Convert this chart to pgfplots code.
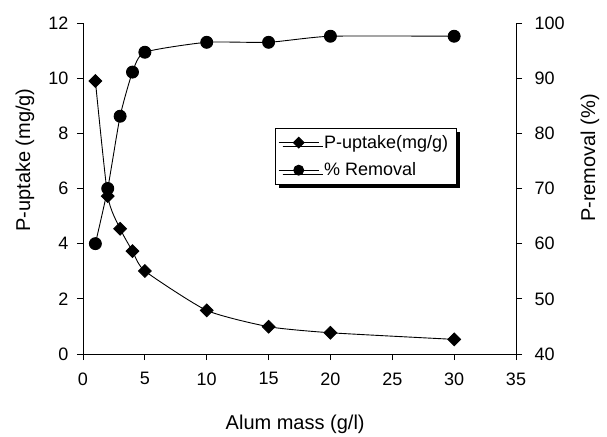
\documentclass[border=0pt]{standalone}
\usepackage{pgfplots}
\pgfplotsset{compat=1.18}
\usepackage{fontspec}
\setmainfont{Liberation Sans}
\usetikzlibrary{shadows}

\pgfplotstableread{
x uptake removal
1  9.90 60.0
2  5.72 70.0
3  4.54 83.1
4  3.73 91.1
5  3.01 94.7
10 1.58 96.5
15 0.99 96.5
20 0.77 97.6
30 0.53 97.6
}\data

\begin{document}
\begin{tikzpicture}[x=1pt,y=1pt]
\path (0,0) rectangle (607,434);
\pgfplotsset{
  base/.style={
    at={(83pt,80pt)}, anchor=south west,
    scale only axis, width=433pt, height=331pt,
    xmin=0, xmax=35, xtick={0,5,...,35},
    tick align=outside, major tick length=6pt,
    tick style={black, line width=0.9pt},
    axis line style={line width=0.9pt},
    ticklabel style={font=\fontsize{18}{20}\selectfont},
    label style={font=\fontsize{20}{22}\selectfont},
    /pgf/number format/assume math mode=true,
    legend image code/.code={\draw[mark repeat=2, mark phase=2, ##1]
      plot coordinates {(0pt,0pt) (20pt,0pt) (40pt,0pt)};},
  },
}
\begin{axis}[base,
    axis y line*=left, axis x line*=bottom,
    ymin=0, ymax=12, ytick={0,2,...,12},
    xticklabel style={yshift=-9pt},
    yticklabel style={xshift=-5pt},
    xlabel={Alum mass (g/l)}, ylabel={P-uptake (mg/g)},
    xlabel style={at={(axis description cs:0.49,-0.227)}, anchor=base},
    ylabel style={at={(axis description cs:-0.134,0.586)}, anchor=center, rotate=0},
]
\addplot[black, line width=0.9pt, smooth, tension=0.35, mark=square*,
  mark size=4.5pt, mark options={rotate=45, solid}] table[x=x, y=uptake] {\data};
\end{axis}
\begin{axis}[base,
    axis y line*=right, axis x line=none,
    ymin=40, ymax=100, ytick={40,50,...,100},
    yticklabel style={xshift=9pt},
    ylabel={P-removal (\%)},
    ylabel style={at={(axis description cs:1.171,0.592)}, anchor=center},
    legend style={at={(0.443,0.683)}, anchor=north west, draw=black,
      line width=0.9pt, font=\fontsize{18}{20}\selectfont,
      row sep=9pt, inner xsep=3pt, inner ysep=5pt,
      nodes={inner xsep=5pt},
      drop shadow={shadow xshift=4pt, shadow yshift=-4pt, fill=black, opacity=1}},
    legend cell align=left,
]
\addlegendimage{black, line width=0.9pt, mark=square*, mark size=3.8pt, mark options={rotate=45, solid}}
\addlegendentry{P-uptake(mg/g)}
\addplot[black, line width=0.9pt, smooth, tension=0.35, mark=*,
  mark size=6pt, forget plot] table[x=x, y=removal] {\data};
\addlegendimage{black, line width=0.9pt, mark=*, mark size=5pt}
\addlegendentry{\% Removal}
\end{axis}
\end{tikzpicture}
\end{document}
